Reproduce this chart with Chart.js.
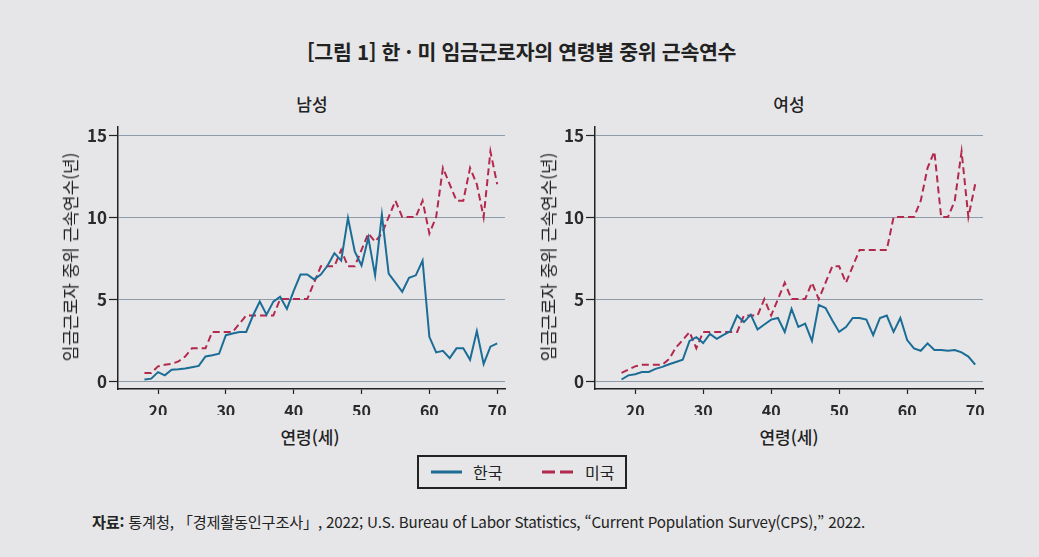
<!DOCTYPE html>
<html lang="ko">
<head>
<meta charset="utf-8">
<title>한·미 임금근로자의 연령별 중위 근속연수</title>
<script src="https://cdn.jsdelivr.net/npm/chart.js@4.4.1/dist/chart.umd.min.js"></script>
<style>
  html, body { margin: 0; padding: 0; }
  body {
    width: 1039px; height: 557px; overflow: hidden; position: relative;
    background: #e6e6e8; color: #222;
    font-family: "Noto Sans CJK KR", "Noto Sans", sans-serif;
  }
  .txt { position: absolute; white-space: nowrap; }
  #title { left: 2px; width: 1039px; top: 39px; text-align: center; font-size: 20.5px; font-weight: 700; line-height: 24px; letter-spacing: -0.3px; }
  .sub { width: 200px; text-align: center; font-size: 17px; font-weight: 500; line-height: 20px; top: 94px; }
  .xt { width: 200px; text-align: center; font-size: 17px; font-weight: 500; line-height: 20px; top: 427px; }
  .yt { font-size: 17px; line-height: 20px; transform: translate(-50%, -50%) rotate(-90deg); top: 257px; }
  canvas { position: absolute; }
  #legend { position: absolute; left: 417px; top: 455px; width: 206px; height: 30px; border: 2px solid #222; }
  #legend svg { position: absolute; left: 0; top: 0; }
  .lg { font-size: 16px; line-height: 18px; top: 6px; }
  #source { left: 92px; top: 511px; font-size: 15.2px; line-height: 20px; letter-spacing: -0.2px; }
</style>
</head>
<body>
<div id="title" class="txt">[그림 1] 한 · 미 임금근로자의 연령별 중위 근속연수</div>
<div class="txt sub" style="left:212px">남성</div>
<div class="txt sub" style="left:689px">여성</div>

<canvas id="male" width="520" height="300" style="left:0px;top:115px"></canvas>
<canvas id="female" width="520" height="300" style="left:480px;top:115px"></canvas>

<div class="txt yt" style="left:70px">임금근로자 중위 근속연수(년)</div>
<div class="txt yt" style="left:548px">임금근로자 중위 근속연수(년)</div>
<div class="txt xt" style="left:210px">연령(세)</div>
<div class="txt xt" style="left:689px">연령(세)</div>

<div id="legend">
  <svg width="206" height="30">
    <line x1="12" y1="15" x2="43" y2="15" stroke="#1b6d96" stroke-width="3"/>
    <line x1="123" y1="15" x2="155" y2="15" stroke="#b3294d" stroke-width="3" stroke-dasharray="13,5"/>
  </svg>
  <div class="txt lg" style="left:54px">한국</div>
  <div class="txt lg" style="left:166px">미국</div>
</div>

<div id="source" class="txt"><b>자료:</b> 통계청, 「경제활동인구조사」, 2022; U.S. Bureau of Labor Statistics, “Current Population Survey(CPS),” 2022.</div>

<script>
// 연령 (세)
const ages = [18,19,20,21,22,23,24,25,26,27,28,29,30,31,32,33,34,35,36,37,38,39,40,41,42,43,44,
              45,46,47,48,49,50,51,52,53,54,55,56,57,58,59,60,61,62,63,64,65,66,67,68,69,70];

// 남성 중위 근속연수 (년)
const krMale = [0.1,0.15,0.55,0.35,0.7,0.72,0.77,0.85,0.93,1.5,1.58,1.67,2.8,2.9,3.0,3.0,4.0,4.85,4.05,4.85,5.15,4.4,5.5,6.5,6.5,6.2,6.5,
                7.05,7.8,7.35,9.95,7.9,7.05,8.75,6.45,10.15,6.55,6.0,5.45,6.3,6.45,7.35,2.7,1.75,1.85,1.4,2.0,2.0,1.3,3.05,1.05,2.1,2.3];
const usMale = [0.5,0.5,0.9,1.0,1.05,1.2,1.5,2.0,2.0,2.0,3.0,3.0,3.0,3.0,3.5,4.0,4.0,4.0,4.0,4.0,5.0,5.0,5.0,5.0,5.0,6.0,7.0,
                7.0,7.0,8.0,7.0,7.0,8.0,9.0,8.5,9.0,10.0,11.0,10.0,10.0,10.0,11.0,9.0,10.0,13.0,12.0,11.0,11.0,13.0,12.0,10.0,14.0,12.0];

// 여성 중위 근속연수 (년)
const krFemale = [0.1,0.35,0.42,0.55,0.56,0.75,0.87,1.03,1.17,1.3,2.45,2.68,2.32,2.88,2.58,2.82,3.04,4.0,3.6,4.05,3.15,3.45,3.75,3.85,3.0,4.4,3.3,
                  3.5,2.45,4.65,4.45,3.7,3.0,3.3,3.85,3.85,3.75,2.8,3.85,4.0,3.0,3.85,2.5,2.0,1.85,2.3,1.9,1.9,1.85,1.9,1.75,1.5,1.0];
const usFemale = [0.5,0.7,0.9,1.0,1.0,1.0,1.0,1.35,2.05,2.5,3.0,2.0,3.0,3.0,3.0,3.0,3.0,3.0,4.0,4.0,4.0,5.0,4.0,5.0,6.0,5.0,5.0,
                  5.0,6.0,5.0,6.0,7.0,7.0,6.0,7.0,8.0,8.0,8.0,8.0,8.0,10.0,10.0,10.0,10.0,11.0,13.0,14.0,10.0,10.0,11.0,14.0,10.0,12.0];

const xTicks = [20, 30, 40, 50, 60, 70];
const yTicks = [0, 5, 10, 15];

const KR_COLOR = '#1b6d96';
const US_COLOR = '#b3294d';
const FONT = '"Noto Sans CJK KR", "Noto Sans", sans-serif';

function toPoints(values) {
    return ages.map((a, i) => ({ x: a, y: values[i] }));
}

function makeChart(id, kr, us, axisWidth, padRight) {
    const ctx = document.getElementById(id).getContext('2d');
    return new Chart(ctx, {
        type: 'line',
        data: {
            datasets: [
                { label: '한국', data: toPoints(kr), borderColor: KR_COLOR, borderWidth: 2, pointRadius: 0, tension: 0 },
                { label: '미국', data: toPoints(us), borderColor: US_COLOR, borderWidth: 2, borderDash: [7, 4], pointRadius: 0, tension: 0 }
            ]
        },
        options: {
            responsive: false,
            animation: false,
            layout: { padding: { top: 10, right: padRight, bottom: 0, left: 0 } },
            plugins: { legend: { display: false }, tooltip: { enabled: false } },
            scales: {
                x: {
                    type: 'linear', min: 14.1, max: 71.15,
                    afterBuildTicks: s => { s.ticks = xTicks.map(v => ({ value: v })); },
                    afterFit: s => { s.height = 26; },
                    grid: { drawOnChartArea: false, drawTicks: true, tickLength: 5, tickColor: '#222', tickWidth: 1.2 },
                    border: { color: '#222', width: 1.5 },
                    ticks: { color: '#2a2a2a', padding: 7, maxRotation: 0, font: { family: FONT, size: 16, weight: '700' } }
                },
                y: {
                    min: -0.48, max: 15.48,
                    afterBuildTicks: s => { s.ticks = yTicks.map(v => ({ value: v })); },
                    afterFit: s => { s.width = axisWidth; },
                    grid: { color: '#8d9ca8', lineWidth: 1, drawTicks: true, tickLength: 9, tickColor: '#222', tickWidth: 1.2 },
                    border: { color: '#222', width: 1.5 },
                    ticks: { color: '#2a2a2a', padding: 2, font: { family: FONT, size: 17, weight: '700' } }
                }
            }
        }
    });
}

makeChart('male', krMale, usMale, 118, 15);
makeChart('female', krFemale, usFemale, 115, 17);
</script>
</body>
</html>
